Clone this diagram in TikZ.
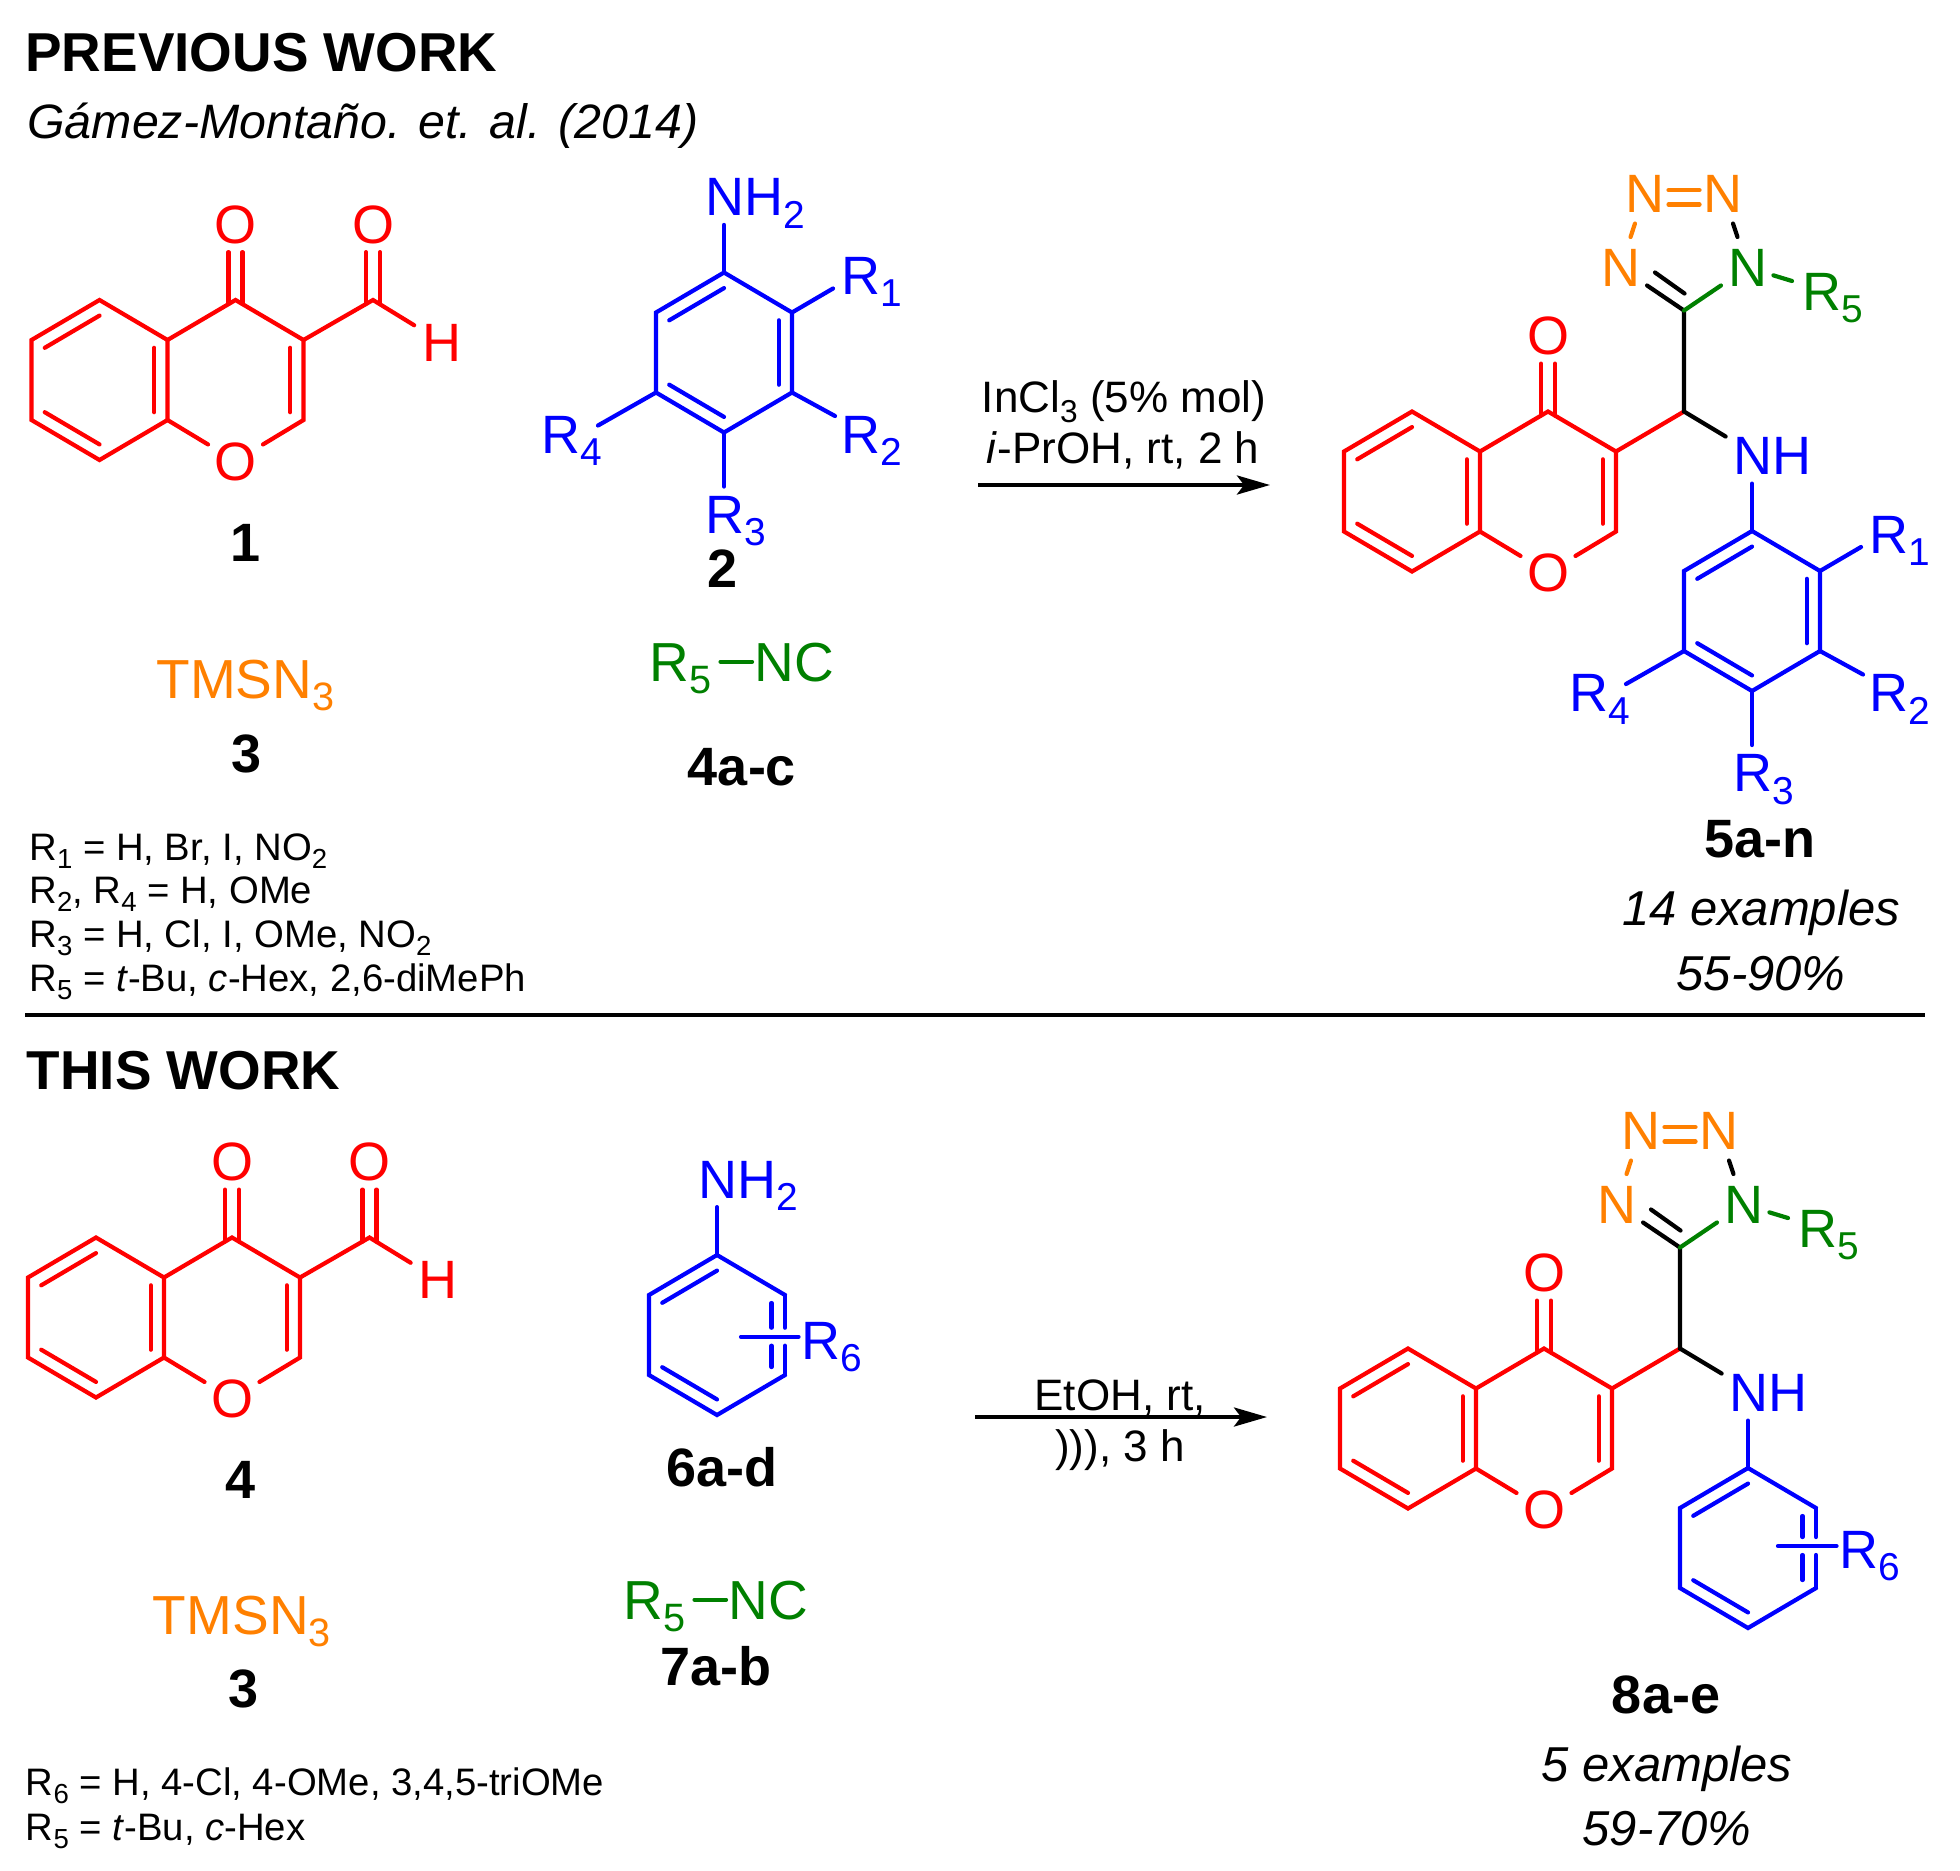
\documentclass[tikz,border=0pt]{standalone}
\usepackage{fontspec}
\setmainfont{Liberation Sans}
\usetikzlibrary{calc,arrows.meta}
\definecolor{molred}{RGB}{255,0,0}
\definecolor{molblue}{RGB}{0,0,255}
\definecolor{molgreen}{RGB}{0,128,0}
\definecolor{molorange}{RGB}{255,128,0}
\makeatletter
\newcommand\sbs[1]{\raisebox{-.23em}{\dimen0=\f@size pt\dimen0=.72\dimen0\fontsize{\the\dimen0}{0pt}\selectfont #1}}
\makeatother
\newcommand\fs[1]{\fontsize{#1}{#1}\selectfont}
\tikzset{
  bondline/.style={line width=2.1pt,line cap=round,line join=miter},
  redbond/.style={color=molred,bondline},
  bluebond/.style={color=molblue,bondline},
  blackbond/.style={color=black,bondline},
  greenbond/.style={color=molgreen,bondline},
  orangebond/.style={color=molorange,bondline},
  atom/.style={circle,inner sep=0pt,minimum size=30pt,text height=19.3pt,text depth=0pt,font=\fs{27}},
  grp/.style={inner sep=0pt,anchor=base west,text height=19.3pt,text depth=0pt,font=\fs{27}},
  reag/.style={inner sep=0pt,anchor=base west,text height=19.3pt,text depth=0pt,font=\fs{27.5}},
  title/.style={inner sep=0pt,anchor=base west,font=\fs{27.4}\bfseries},
  cite/.style={inner sep=0pt,anchor=base west,font=\fs{24.15}\itshape},
  cpd/.style={inner sep=0pt,anchor=base,font=\fs{27}\bfseries},
  yield/.style={inner sep=0pt,anchor=base,font=\fs{24.5}\itshape},
  subst/.style={inner sep=0pt,anchor=base west,font=\fs{19.15}},
  cond/.style={inner sep=0pt,anchor=base,font=\fs{22}},
  rxn/.style={line width=2pt,-{Stealth[length=16.5pt,width=9.5pt,inset=3.5pt]}},
  rule/.style={line width=2pt}
}
\newcommand\dbl[3]{\draw ($(#1)!.195!(#3)$) -- ($(#2)!.195!(#3)$);}
% chromone core, origin at C4
\newcommand\chromone[1]{%
  \coordinate (#1c4) at (0,0);
  \coordinate (#1c4a) at (-68,40);
  \coordinate (#1c8a) at (-68,120);
  \coordinate (#1c5) at (-136,0);
  \coordinate (#1c6) at (-204,40);
  \coordinate (#1c7) at (-204,120);
  \coordinate (#1c8) at (-136,160);
  \coordinate (#1c3) at (68,40);
  \coordinate (#1c2) at (68,120);
  \coordinate (#1bz) at (-136,80);
  \coordinate (#1py) at (0,80);
  \node[atom] (#1o1) at (0,161) {O};
  \node[atom] (#1o4) at (0,-76) {O};
  \draw (#1c4a) -- (#1c5) -- (#1c6) -- (#1c7) -- (#1c8) -- (#1c8a) -- cycle;
  \draw (#1c8a) -- (#1o1);
  \draw (#1o1) -- (#1c2) -- (#1c3) -- (#1c4) -- (#1c4a);
  \dbl{#1c5}{#1c6}{#1bz}
  \dbl{#1c7}{#1c8}{#1bz}
  \dbl{#1c4a}{#1c8a}{#1bz}
  \dbl{#1c3}{#1c2}{#1py}
  \draw[shorten <=-2pt] ([xshift=3.5pt]#1o4.south) -- ([xshift=3.5pt,yshift=-2pt]#1c4);
  \draw[shorten <=-2pt] ([xshift=-3.5pt]#1o4.south) -- ([xshift=-3.5pt,yshift=-2pt]#1c4);
}
% aldehyde on C3
\newcommand\cho[1]{%
  \coordinate (#1cf) at (137.5,0);
  \node[atom] (#1of) at (137.5,-76) {O};
  \node[atom] (#1hf) at (206,42) {H};
  \draw (#1c3) -- (#1cf) -- (#1hf);
  \draw[shorten <=-2pt] ([xshift=3.5pt]#1of.south) -- ([xshift=3.5pt,yshift=-2pt]#1cf);
  \draw[shorten <=-2pt] ([xshift=-3.5pt]#1of.south) -- ([xshift=-3.5pt,yshift=-2pt]#1cf);
}
% six ring coordinates, origin at top vertex
\newcommand\ringpts[1]{%
  \coordinate (#1t) at (0,0);
  \coordinate (#1ur) at (68,40);
  \coordinate (#1lr) at (68,120);
  \coordinate (#1b) at (0,160);
  \coordinate (#1ll) at (-68,120);
  \coordinate (#1ul) at (-68,40);
  \coordinate (#1m) at (0,80);
}
% tetrasubstituted aryl
\newcommand\aryl[1]{%
  \ringpts{#1}
  \draw (#1t) -- (#1ur) -- (#1lr) -- (#1b) -- (#1ll) -- (#1ul) -- cycle;
  \dbl{#1t}{#1ul}{#1m}
  \dbl{#1ur}{#1lr}{#1m}
  \dbl{#1ll}{#1b}{#1m}
  \node[grp] (#1r1) at (115,22) {R\sbs{1}};
  \node[grp] (#1r2) at (115,180.6) {R\sbs{2}};
  \node[grp] (#1r3) at (-20.5,260.6) {R\sbs{3}};
  \node[grp] (#1r4) at (-185,180.6) {R\sbs{4}};
  \coordinate (#1e1) at (109,16);
  \coordinate (#1e2) at (111,143.5);
  \coordinate (#1e3) at (0,214);
  \coordinate (#1e4) at (-126,153);
  \draw (#1ur) -- (#1e1);
  \draw (#1lr) -- (#1e2);
  \draw (#1b) -- (#1e3);
  \draw (#1ll) -- (#1e4);
}
% monosubstituted ring with R6 crossing the right side: prefix, bar y, bar x, label x, label baseline
\newcommand\rsring[5]{%
  \ringpts{#1}
  \draw (#1ur) -- (#1t) -- (#1ul) -- (#1ll) -- (#1b) -- (#1lr);
  \coordinate (#1g1) at (68,#2-9);
  \coordinate (#1g2) at (68,#2+9);
  \coordinate (#1h1) at (54.5,#2-9);
  \coordinate (#1h2) at (54.5,#2+9);
  \coordinate (#1i1) at (54.5,48);
  \coordinate (#1i2) at (54.5,112);
  \draw (#1ur) -- (#1g1);
  \draw (#1g2) -- (#1lr);
  \draw (#1i1) -- (#1h1);
  \draw (#1h2) -- (#1i2);
  \dbl{#1t}{#1ul}{#1m}
  \dbl{#1ll}{#1b}{#1m}
  \node[grp] (#1r6) at (#4,#5) {R\sbs{6}};
  \coordinate (#1bar) at (#3,#2);
  \draw[shorten >=.5pt] (#1bar) -- (#1bar -| #1r6.west);
}
% tetrazole arm and NH on a chromone at the origin
\newcommand\arm[1]{%
  \coordinate (#1ch) at (136,0);
  \coordinate (#1ct) at (136,-101);
  \coordinate (#1i1) at (107,-139);
  \coordinate (#1i2) at (136.5,-118);
  \coordinate (#1e5) at (244,-130.5);
  \coordinate (#1enh) at (177.6,25);
  \node[atom,molgreen] (#1n1) at (199.5,-144) {N};
  \node[atom,molorange] (#1n4) at (72.5,-144) {N};
  \node[atom,molorange] (#1n3) at (97,-218.4) {N};
  \node[atom,molorange] (#1n2) at (175,-218.4) {N};
  \node[grp,molgreen] (#1r5) at (252.5,-101) {R\sbs{5}};
  \node[grp,molblue] (#1nh) at (183,63) {NH};
  \draw[redbond] (#1c3) -- (#1ch);
  \draw[blackbond] (#1ct) -- (#1ch) -- (#1enh);
  \draw[blackbond] (#1n4) -- (#1ct);
  \draw[blackbond] (#1i1) -- (#1i2);
  \draw[blackbond] (#1n2) -- (#1n1);
  \draw[greenbond] (#1ct) -- (#1n1);
  \draw[greenbond,shorten <=-2.5pt] (#1n1) -- (#1e5);
  \draw[orangebond] (#1n3) -- (#1n4);
  \draw[orangebond,shorten <=-4.3pt,shorten >=-4.3pt] ([yshift=1.5pt]#1n3.east) -- ([yshift=1.5pt]#1n2.west);
  \draw[orangebond,shorten <=-4.3pt,shorten >=-4.3pt] ([yshift=-5.7pt]#1n3.east) -- ([yshift=-5.7pt]#1n2.west);
}
\begin{document}
\begin{tikzpicture}[x=.5pt,y=-.5pt]
\path[fill=white,use as bounding box] (0,0) rectangle (1960,1870);

% headings
\node[title] (h1) at (25,71) {PREVIOUS WORK};
\node[cite] (h2) at (27,138) {Gámez-Montaño. et. al. (2014)};
\node[title] (h3) at (26.5,1089) {THIS WORK};
\coordinate (ruleA) at (25,1015);
\coordinate (ruleB) at (1925,1015);
\draw[rule] (ruleA) -- (ruleB);

% ---------- previous work
\begin{scope}[shift={(235.5,300)},redbond]
  \chromone{a} \cho{a}
\end{scope}
\node[cpd] (l1) at (245.5,561) {1};
\begin{scope}[shift={(724,272.5)},bluebond]
  \aryl{b}
  \node[grp] (bnh) at (-20.5,-56.7) {NH\sbs{2}};
  \draw[shorten >=3.5pt] (bt) -- (bt |- bnh.south);
\end{scope}
\node[cpd] (l2) at (723,587) {2};
\node[reag,molorange] (tms1) at (156,698) {TMSN\sbs{3}};
\node[cpd] (l3) at (246.5,772) {3};
\node[reag,molgreen] (r5a) at (649,681) {R\sbs{5}};
\node[reag,molgreen] (nca) at (754,681) {NC};
\draw[greenbond,shorten <=4.5pt,shorten >=1pt] (r5a.east) -- (nca.west);
\node[cpd] (l4) at (742,785) {4a-c};

\node[subst] (s1) at (29,860) {R\sbs{1} = H, Br, I, NO\sbs{2}};
\node[subst] (s2) at (29,903) {R\sbs{2}, R\sbs{4} = H, OMe};
\node[subst] (s3) at (29,947) {R\sbs{3} = H, Cl, I, OMe, NO\sbs{2}};
\node[subst] (s4) at (29,991) {R\sbs{5} = \textit{t}-Bu, \textit{c}-Hex, 2,6-diMePh};

\coordinate (arrA1) at (978,485);
\coordinate (arrA2) at (1270,485);
\draw[rxn] (arrA1) -- (arrA2);
\node[cond] (c1) at (1124,412) {InCl\sbs{3} (5\% mol)};
\node[cond] (c2) at (1123,463) {\textit{i}-PrOH, rt, 2 h};

\begin{scope}[shift={(1548,411.5)},redbond]
  \chromone{p} \arm{p}
\end{scope}
\begin{scope}[shift={(1752,531)},bluebond]
  \aryl{q}
  \draw[shorten >=3.5pt] (qt) -- (qt |- pnh.south);
\end{scope}
\node[cpd] (l5) at (1760,857) {5a-n};
\node[yield] (y1) at (1761,925) {14 examples};
\node[yield] (y2) at (1761,990) {55-90\%};

% ---------- this work
\begin{scope}[shift={(232,1237.5)},redbond]
  \chromone{c} \cho{c}
\end{scope}
\node[cpd] (l6) at (241,1498) {4};
\begin{scope}[shift={(717,1255)},bluebond]
  \rsring{d}{81.7}{24}{82.5}{104}
  \node[grp] (dnh) at (-21,-57) {NH\sbs{2}};
  \draw[shorten >=3.5pt] (dt) -- (dt |- dnh.south);
\end{scope}
\node[cpd] (l7) at (722,1486) {6a-d};
\node[reag,molorange] (tms2) at (152.5,1634) {TMSN\sbs{3}};
\node[cpd] (l8) at (243.5,1707.5) {3};
\node[reag,molgreen] (r5b) at (623,1619) {R\sbs{5}};
\node[reag,molgreen] (ncb) at (728,1619) {NC};
\draw[greenbond,shorten <=4.5pt,shorten >=1pt] (r5b.east) -- (ncb.west);
\node[cpd] (l9) at (716,1685) {7a-b};

\node[subst] (s5) at (25.5,1795) {R\sbs{6} = H, 4-Cl, 4-OMe, 3,4,5-triOMe};
\node[subst] (s6) at (25.5,1840) {R\sbs{5} = \textit{t}-Bu, \textit{c}-Hex};

\coordinate (arrB1) at (975,1417);
\coordinate (arrB2) at (1267,1417);
\draw[rxn] (arrB1) -- (arrB2);
\node[cond] (c3) at (1120,1410) {EtOH, rt,};
\node[cond] (c4) at (1120,1461) {))), 3 h};

\begin{scope}[shift={(1544,1348.5)},redbond]
  \chromone{r} \arm{r}
\end{scope}
\begin{scope}[shift={(1748,1468)},bluebond]
  \rsring{s}{78}{30}{89.5}{100.4}
  \draw[shorten >=3.5pt] (st) -- (st |- rnh.south);
\end{scope}
\node[cpd] (l10) at (1666,1713) {8a-e};
\node[yield] (y3) at (1667,1781) {5 examples};
\node[yield] (y4) at (1667,1845) {59-70\%};
\end{tikzpicture}
\end{document}
